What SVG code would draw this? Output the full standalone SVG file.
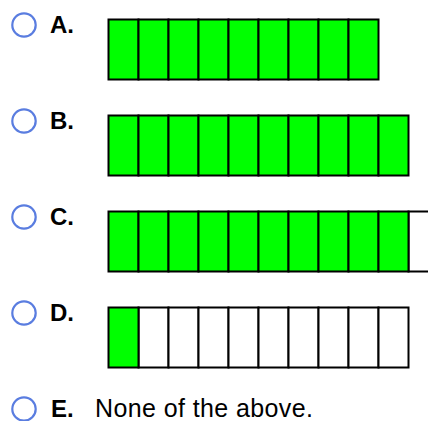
<svg xmlns="http://www.w3.org/2000/svg" width="428" height="421" viewBox="0 0 428 421">
<style>
.radio{fill:#fff;stroke:#5a7de0;stroke-width:2.2}
.lbl{font-family:"Liberation Sans",Arial,sans-serif;font-size:24px;font-weight:bold;fill:#000}
.txt{font-family:"Liberation Sans",Arial,sans-serif;font-size:25px;fill:#000}
.g{fill:#00ff00;stroke:#000;stroke-width:2}
.w{fill:#fff;stroke:#000;stroke-width:2}
</style>
<defs>
<rect id="cg" class="g" width="30" height="60"/>
<rect id="cw" class="w" width="30" height="60"/>
</defs>
<rect width="428" height="421" fill="#fff"/>
<g id="optA">
<circle class="radio" cx="24" cy="25" r="11.7"/>
<text class="lbl" x="50" y="33">A.</text>
<g transform="translate(108.5,19.5)">
<use href="#cg" x="0"/><use href="#cg" x="30"/><use href="#cg" x="60"/><use href="#cg" x="90"/><use href="#cg" x="120"/><use href="#cg" x="150"/><use href="#cg" x="180"/><use href="#cg" x="210"/><use href="#cg" x="240"/>
</g>
</g>
<g id="optB">
<circle class="radio" cx="24" cy="121" r="11.7"/>
<text class="lbl" x="50" y="129">B.</text>
<g transform="translate(108.5,115.5)">
<use href="#cg" x="0"/><use href="#cg" x="30"/><use href="#cg" x="60"/><use href="#cg" x="90"/><use href="#cg" x="120"/><use href="#cg" x="150"/><use href="#cg" x="180"/><use href="#cg" x="210"/><use href="#cg" x="240"/><use href="#cg" x="270"/>
</g>
</g>
<g id="optC">
<circle class="radio" cx="24" cy="217" r="11.7"/>
<text class="lbl" x="50" y="225">C.</text>
<g transform="translate(108.5,211.5)">
<use href="#cw" x="300"/>
<use href="#cg" x="0"/><use href="#cg" x="30"/><use href="#cg" x="60"/><use href="#cg" x="90"/><use href="#cg" x="120"/><use href="#cg" x="150"/><use href="#cg" x="180"/><use href="#cg" x="210"/><use href="#cg" x="240"/><use href="#cg" x="270"/>
</g>
</g>
<g id="optD">
<circle class="radio" cx="24" cy="313" r="11.7"/>
<text class="lbl" x="50" y="321">D.</text>
<g transform="translate(108.5,307.5)">
<use href="#cw" x="30"/><use href="#cw" x="60"/><use href="#cw" x="90"/><use href="#cw" x="120"/><use href="#cw" x="150"/><use href="#cw" x="180"/><use href="#cw" x="210"/><use href="#cw" x="240"/><use href="#cw" x="270"/>
<use href="#cg" x="0"/>
</g>
</g>
<g id="optE">
<circle class="radio" cx="24" cy="409" r="11.7"/>
<text class="lbl" x="51" y="417">E.</text>
<text class="txt" x="95" y="417" textLength="218" lengthAdjust="spacing">None of the above.</text>
</g>
</svg>
